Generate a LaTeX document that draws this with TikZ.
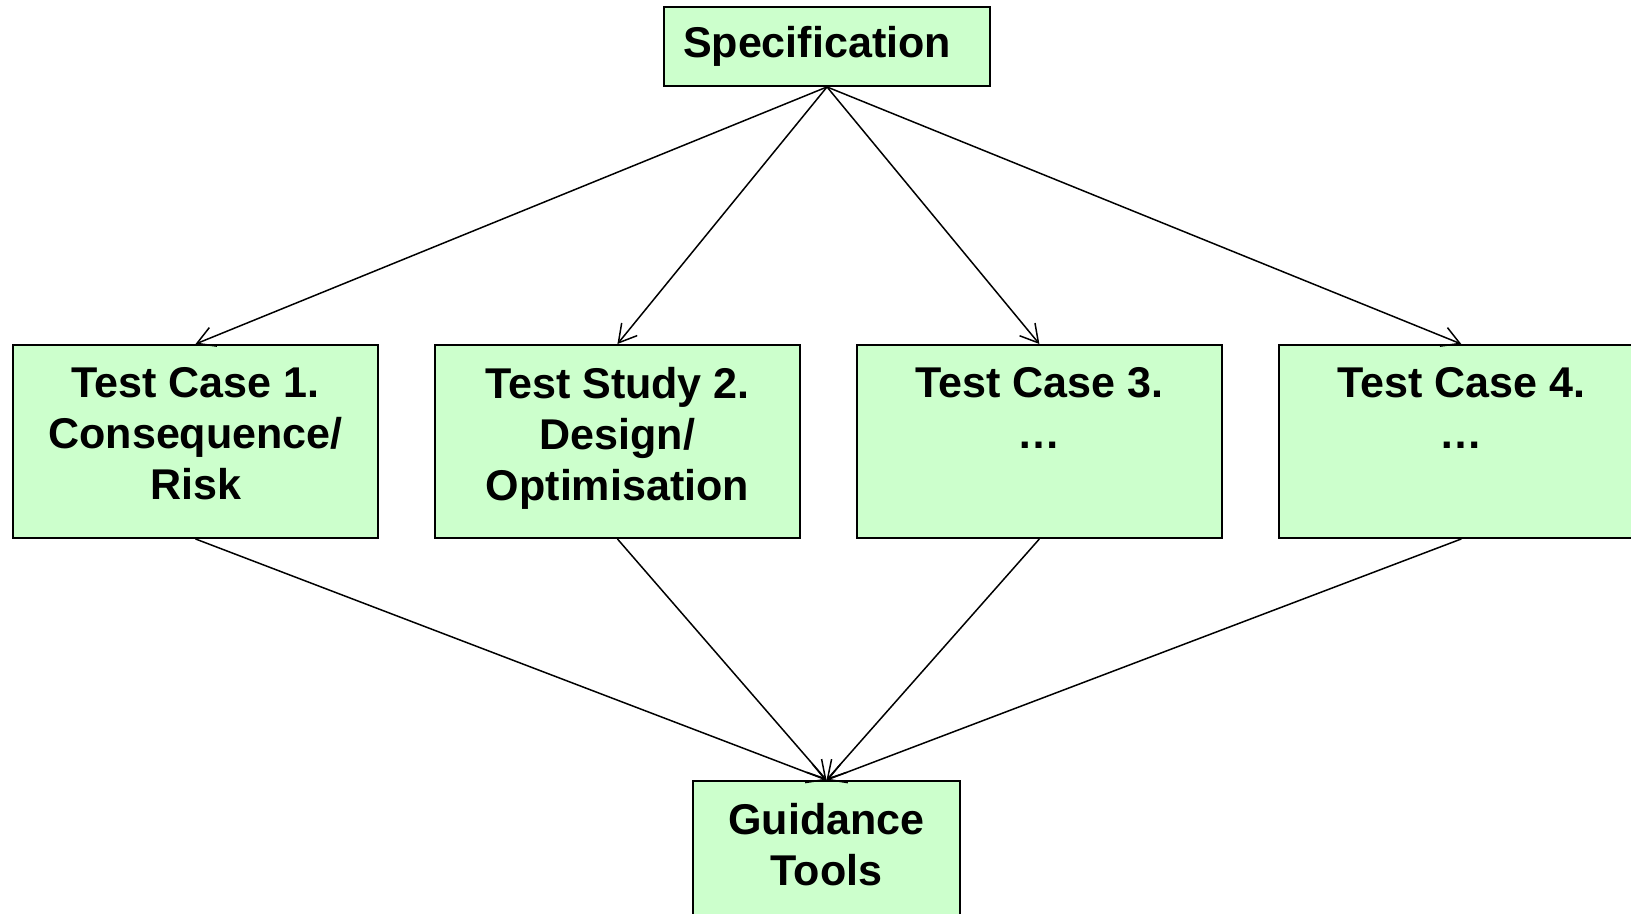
\documentclass[tikz,border=0pt]{standalone}
\usepackage{fontspec}
\setmainfont{Liberation Sans}
\usetikzlibrary{arrows.meta,positioning}
\definecolor{boxgreen}{HTML}{CCFFCC}

\begin{document}
\begin{tikzpicture}[>={Straight Barb[length=3.5mm,width=4mm]},line width=0.85pt,
  font=\fontsize{24.5}{29}\selectfont\bfseries,
  box/.style={draw,fill=boxgreen,line width=1.1pt,align=center,minimum width=7.3cm,minimum height=3.86cm}]
\useasboundingbox (0,0) rectangle (32.62,18.28);
\node[box,minimum width=6.52cm,minimum height=1.58cm] (spec) at (16.54,17.35) {Specification\hspace{4mm}};
\node[box] (tc1) at (3.91,9.45) {Test Case 1.\\Consequence/\\Risk\strut};
\node[box,right=1.1cm of tc1] (tc2) {Test Study 2.\\Design/\\Optimisation\strut};
\node[box,right=1.1cm of tc2] (tc3) {Test Case 3.\\…\\\strut};
\node[box,right=1.1cm of tc3] (tc4) {Test Case 4.\\…\\\strut};
\node[box,minimum width=5.34cm] (guide) at (16.53,0.73) {Guidance\\Tools\\\strut};
\foreach \n in {tc1,tc2,tc3,tc4} {
  \draw[->] (spec.south) -- (\n.north);
  \draw[->] (\n.south) -- (guide.north);
}
\end{tikzpicture}
\end{document}
